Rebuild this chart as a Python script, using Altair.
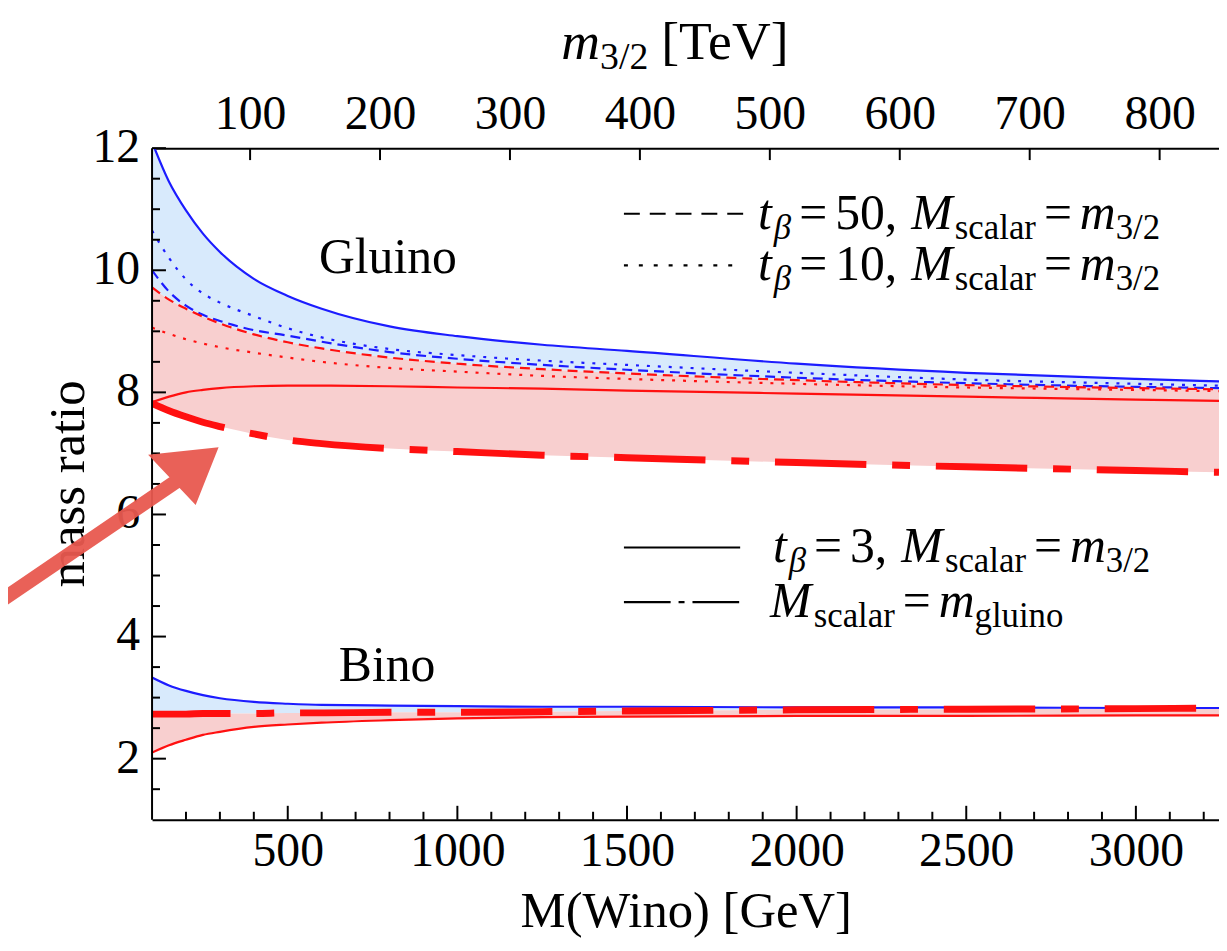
import altair as alt
import pandas as pd

# ---------------- data ----------------
M_wino = [100, 150, 200, 250, 300, 400, 500, 600, 800, 1000, 1250, 1500, 2000, 2500, 3000, 3245]

gl_blue_solid  = [12.1, 11.45, 10.98, 10.6, 10.3, 9.86, 9.58, 9.37, 9.08, 8.92, 8.78, 8.68, 8.47, 8.32, 8.22, 8.18]
gl_blue_dotted = [10.65, 10.2, 9.85, 9.62, 9.47, 9.25, 9.05, 8.9, 8.71, 8.61, 8.52, 8.45, 8.32, 8.21, 8.14, 8.11]
gl_blue_dashed = [10.0, 9.65, 9.42, 9.27, 9.17, 9.02, 8.93, 8.83, 8.66, 8.55, 8.45, 8.37, 8.24, 8.15, 8.09, 8.07]
gl_red_dashed  = [9.72, 9.52, 9.37, 9.24, 9.13, 8.95, 8.82, 8.72, 8.57, 8.47, 8.38, 8.31, 8.2, 8.12, 8.07, 8.05]
gl_red_dotted  = [9.06, 8.96, 8.87, 8.8, 8.74, 8.65, 8.57, 8.5, 8.4, 8.34, 8.27, 8.22, 8.14, 8.08, 8.04, 8.02]
gl_red_solid   = [7.84, 7.93, 8.0, 8.04, 8.07, 8.1, 8.11, 8.11, 8.1, 8.08, 8.06, 8.03, 7.98, 7.93, 7.88, 7.86]
gl_dashdot     = [7.82, 7.7, 7.6, 7.51, 7.44, 7.32, 7.22, 7.16, 7.08, 7.03, 6.97, 6.93, 6.85, 6.78, 6.72, 6.69]
bi_blue_solid  = [3.33, 3.2, 3.11, 3.04, 2.99, 2.93, 2.9, 2.88, 2.87, 2.86, 2.85, 2.85, 2.84, 2.84, 2.83, 2.83]
bi_dashdot     = [2.73, 2.73, 2.73, 2.74, 2.74, 2.74, 2.75, 2.75, 2.76, 2.76, 2.77, 2.78, 2.8, 2.81, 2.82, 2.83]
bi_red_solid   = [2.1, 2.22, 2.31, 2.39, 2.44, 2.52, 2.56, 2.59, 2.63, 2.66, 2.68, 2.69, 2.7, 2.7, 2.71, 2.71]

x_major = [500, 1000, 1500, 2000, 2500, 3000]
x_minor = [m for m in range(200, 3300, 100) if m % 500 != 0]
y_major = [2, 4, 6, 8, 10, 12]
y_minor = [v / 2 for v in range(3, 24) if v % 4 != 0]
m32_labels = [100, 200, 300, 400, 500, 600, 700, 800]      # TeV
m32_at_M = [389, 772, 1155, 1538, 1921, 2304, 2687, 3070]   # where they sit on the M(Wino) axis

# ---------------- geometry ----------------
W, H = 1074, 676
XMIN, XMAX, YMIN, YMAX = 100, 3245, 1, 12
LEFT, TOP = 153, 146  # page position of plot origin


def px_to_M(px):
    return XMIN + (px - LEFT) * (XMAX - XMIN) / W


def py_to_val(py):
    return YMAX - (py - TOP) * (YMAX - YMIN) / H


xs = alt.Scale(domain=[XMIN, XMAX], nice=False, zero=False)
ys = alt.Scale(domain=[YMIN, YMAX], nice=False, zero=False)

df = pd.DataFrame(dict(
    M=M_wino, gbs=gl_blue_solid, gbo=gl_blue_dotted, gbd=gl_blue_dashed,
    grd=gl_red_dashed, gro=gl_red_dotted, grs=gl_red_solid, gdd=gl_dashdot,
    bbs=bi_blue_solid, bdd=bi_dashdot, brs=bi_red_solid))
base = alt.Chart(df)

FONT = "Liberation Serif"
BLUE = "#1c1cff"
RED = "#ff1010"
LBLUE = "#d8eafc"
PINK = "#f8cfcf"

X = lambda **k: alt.X("M:Q", scale=xs, **k)
Y = lambda f: alt.Y(f, scale=ys, axis=None)
AXIS_STYLE = dict(ticks=False, domain=True, domainColor="black", domainWidth=2, grid=False,
                  labelFont=FONT, labelFontSize=48, labelColor="black",
                  labelFlush=False, labelOverlap=False, title=None)


# ---------------- areas ----------------
def area(c1, c2, color):
    return base.mark_area(color=color, opacity=1, clip=True, interpolate="monotone").encode(
        x=X(axis=None), y=Y(f"{c1}:Q"), y2=alt.Y2(f"{c2}:Q"))


areas = [
    area("gbs", "grd", LBLUE),
    area("grd", "gdd", PINK),
    area("bbs", "bdd", LBLUE),
    area("bdd", "brs", PINK),
]


# ---------------- lines ----------------
def line(col, color, width=2.2, dash=None, offset=None):
    kw = dict(color=color, strokeWidth=width, clip=True, interpolate="monotone")
    if dash:
        kw["strokeDash"] = dash
    if offset is not None:
        kw["strokeDashOffset"] = offset
    return base.mark_line(**kw).encode(x=X(axis=None), y=Y(f"{col}:Q"))


DASH = [10, 6]
DOT = [3, 8]
DASHDOT = [92, 26, 18, 26]
lines = [
    line("gbs", BLUE),
    line("gbo", BLUE, dash=DOT),
    line("gbd", BLUE, dash=DASH),
    line("grd", RED, dash=DASH),
    line("gro", RED, dash=DOT),
    line("grs", RED),
    line("gdd", RED, width=7, dash=DASHDOT, offset=15),
    line("bbs", BLUE),
    line("brs", RED),
    line("bdd", RED, width=7, dash=DASHDOT, offset=13),
]


# ---------------- frame, ticks (drawn inward), axes ----------------
def xticks(vals, length, axis=None):
    return alt.Chart(pd.DataFrame({"M": vals})).mark_rule(color="black", strokeWidth=2).encode(
        x=X(axis=axis), y=alt.value(H), y2=alt.value(H - length))


def yticks(vals, length):
    return alt.Chart(pd.DataFrame({"v": vals})).mark_rule(color="black", strokeWidth=2).encode(
        y=Y("v:Q"), x=alt.value(0), x2=alt.value(length))


bottom_axis = alt.Axis(orient="bottom", values=x_major, format="d", labelPadding=8, **AXIS_STYLE)
top_expr = " : ".join(f"datum.value == {p} ? '{l}'" for p, l in zip(m32_at_M, m32_labels)) + " : ''"
top_axis = alt.Axis(orient="top", values=m32_at_M, labelExpr=top_expr, labelPadding=10, **AXIS_STYLE)

top_ticks = alt.Chart(pd.DataFrame({"M": m32_at_M})).mark_rule(color="black", strokeWidth=2).encode(
    x=X(axis=top_axis), y=alt.value(0), y2=alt.value(12))

left_frame = alt.Chart(pd.DataFrame({"v": [YMIN], "v2": [YMAX]})).mark_rule(
    color="black", strokeWidth=2).encode(y=Y("v:Q"), y2="v2:Q", x=alt.value(0))

ylabels = alt.Chart(pd.DataFrame({"v": y_major, "t": [str(v) for v in y_major]})).mark_text(
    font=FONT, fontSize=48, align="right", baseline="middle", color="black").encode(
    y=Y("v:Q"), x=alt.value(-12), text="t:N")

ticks = [xticks(x_minor, 8), xticks(x_major, 14, bottom_axis),
         yticks(y_minor, 8), yticks(y_major, 14), top_ticks, left_frame, ylabels]


# ---------------- legend samples ----------------
def sample(px0, px1, py, dash=None):
    kw = dict(color="black", strokeWidth=2.2)
    if dash:
        kw["strokeDash"] = dash
    d = pd.DataFrame({"M": [px_to_M(px0)], "M2": [px_to_M(px1)], "v": [py_to_val(py)]})
    return alt.Chart(d).mark_rule(**kw).encode(x=X(axis=None), x2="M2:Q", y=Y("v:Q"))


samples = [
    sample(628, 748, 212, [16, 10]),
    sample(628, 748, 264, [4, 11]),
    sample(628, 745, 548),
    sample(628, 745, 603, [47, 8, 6, 8]),
]

# ---------------- typeset texts ----------------
SUB_DROP = 10
W_R = {" ": 250, ",": 250, "=": 564, "/": 278, "[": 333, "]": 333, "(": 333, ")": 333,
       "T": 611, "e": 444, "V": 722, "s": 389, "c": 444, "a": 444, "l": 278, "r": 333,
       "g": 500, "u": 500, "i": 278, "n": 500, "o": 500, "M": 889, "W": 944, "G": 722, "B": 667}
W_I = {"t": 278, "M": 860, "m": 722, "β": 500}


def layout(px, py, pieces, big=50, small=35):
    out = []
    for text, kind in pieces:
        if kind == "S":
            px += text
            continue
        is_big = kind in "RI"
        fs = big if is_big else small
        table = W_I if kind in "Ii" else W_R
        w = sum(table.get(ch, 500) for ch in text) / 1000 * fs
        out.append(dict(M=px_to_M(px), v=py_to_val(py if is_big else py + SUB_DROP),
                        text=text, kind=kind, fs=fs))
        px += w
    return out


def legend_row(px, py, num):
    return layout(px, py, [("t", "I"), (2, "S"), ("β", "i"), (8, "S"), ("=", "R"), (8, "S"),
                           (num + ",", "R"), (14, "S"), ("M", "I"), (1, "S"), ("scalar", "r"),
                           (8, "S"), ("=", "R"), (8, "S"), ("m", "I"), ("3/2", "r")])


pieces = []
pieces += legend_row(763, 227, "50")
pieces += legend_row(763, 279, "10")
pieces += legend_row(778, 563, "3")
pieces += layout(775, 618, [("M", "I"), (1, "S"), ("scalar", "r"), (8, "S"), ("=", "R"), (8, "S"),
                            ("m", "I"), ("gluino", "r")])
pieces += layout(321, 272, [("Gluino", "R")])
pieces += layout(341, 682, [("Bino", "R")])
pieces += layout(524, 930, [("M(Wino) [GeV]", "R")], big=51)
pieces += layout(565, 56, [("m", "I"), ("3/2", "r"), (13, "S"), ("[TeV]", "R")], big=54, small=38)
tdf = pd.DataFrame(pieces)

texts = []
for (kind, fs), sub in tdf.groupby(["kind", "fs"]):
    style = "italic" if kind in "Ii" else "normal"
    texts.append(alt.Chart(sub).mark_text(
        font=FONT, fontSize=float(fs), fontStyle=style, align="left", baseline="alphabetic",
        color="black").encode(x=X(axis=None), y=Y("v:Q"), text="text:N"))

ytitle = alt.Chart(pd.DataFrame({"M": [px_to_M(84)], "v": [py_to_val(484)], "t": ["mass ratio"]})).mark_text(
    font=FONT, fontSize=51, angle=270, align="center", baseline="alphabetic", color="black").encode(
    x=X(axis=None), y=Y("v:Q"), text="t:N")

# ---------------- hand-drawn red arrow ----------------
ARROW = ("M -1.035 0.655 L 0.58 -0.445 L 0.655 -0.335 L -0.965 0.765 Z "
         "M 0.355 -0.63 L 1 -0.7 L 0.79 -0.17 Z")
arrow = alt.Chart(pd.DataFrame({"M": [px_to_M(110)], "v": [py_to_val(524)]})).mark_point(
    shape=ARROW, filled=True, size=48400, color="#e8584f", opacity=0.95, strokeWidth=0).encode(
    x=X(axis=None), y=Y("v:Q"))

chart = alt.layer(*areas, *lines, *ticks, *samples, *texts, ytitle, arrow).properties(
    width=W, height=H,
    padding={"left": 145, "top": 138, "right": 0, "bottom": 120},
    autosize=alt.AutoSizeParams(type="none"),
    background="white",
).configure_view(stroke=None)

chart.save("out.html", embed_options={"renderer": "svg", "actions": False})
